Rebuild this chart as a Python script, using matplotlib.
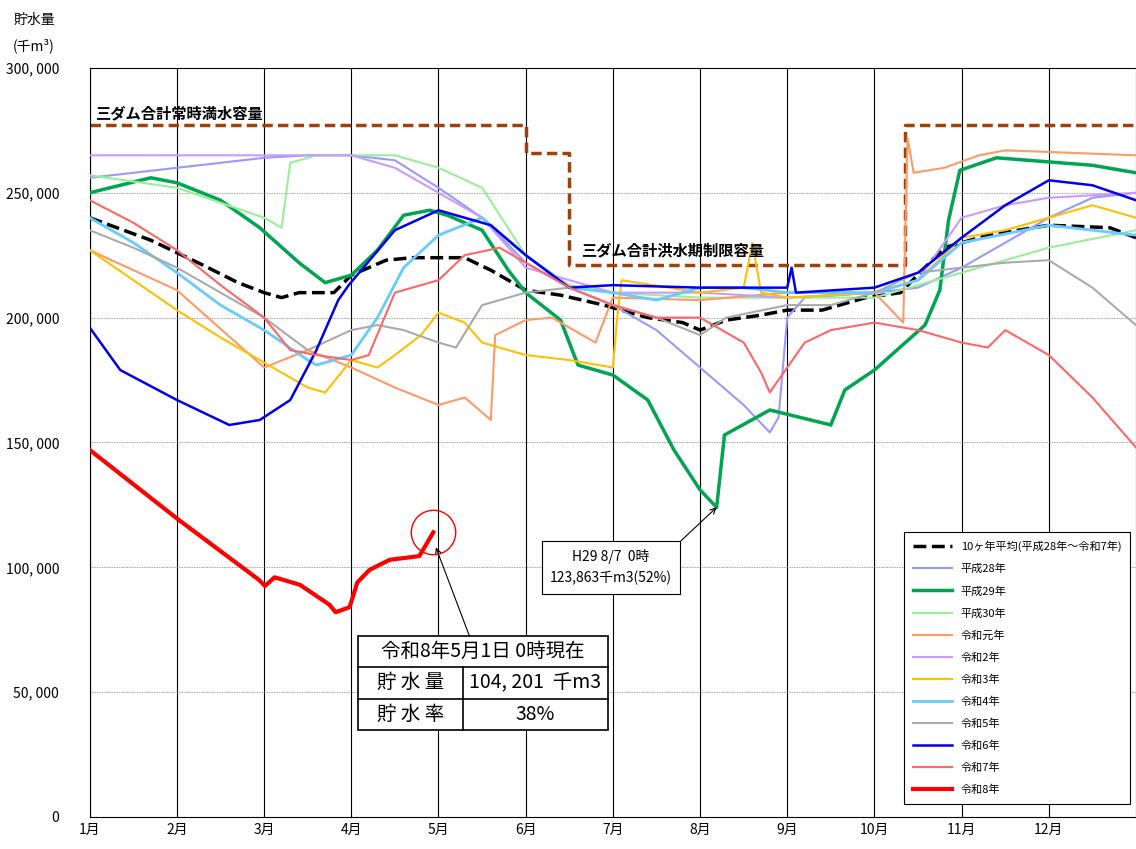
import matplotlib
matplotlib.use("Agg")
import matplotlib.pyplot as plt
from matplotlib.patches import Rectangle
from matplotlib.ticker import FuncFormatter

plt.rcParams['font.family'] = ['Noto Sans CJK JP', 'DejaVu Sans']

months = ['1月', '2月', '3月', '4月', '5月', '6月', '7月', '8月', '9月', '10月', '11月', '12月']

# x = month offset (0 = 1/1), y = 千m3
cap_x = [0, 5, 5, 5.5, 5.5, 9.35, 9.35, 12]
cap_y = [277, 277, 266, 266, 221, 221, 277, 277]

avg_x = [0, 0.7, 1.3, 1.7, 2, 2.2, 2.4, 2.8, 3, 3.4, 3.7, 4, 4.3, 4.6, 5, 5.4, 5.9, 6.4, 6.8, 7, 7.3, 7.7, 8, 8.4, 8.9, 9.3, 9.8, 10.3, 11, 11.7, 12]
avg_y = [240, 231, 221, 214, 210, 208, 210, 210, 217, 223, 224, 224, 224, 219, 211, 209, 205, 200, 198, 195, 199, 201, 203, 203, 208, 210, 228, 233, 237, 236, 232]

h28_x = [0, 0.5, 1, 1.5, 2, 2.5, 3, 3.5, 4, 4.5, 5, 5.5, 6, 6.5, 7, 7.5, 7.8, 7.9, 8.0, 8.2, 9, 9.5, 10, 10.5, 11, 11.5, 12]
h28_y = [256, 258, 260, 262, 264, 265, 265, 263, 252, 240, 222, 212, 205, 195, 180, 165, 154, 160, 200, 208, 210, 212, 220, 230, 240, 248, 250]

h29_x = [0, 0.7, 1, 1.5, 1.95, 2.4, 2.7, 3, 3.3, 3.6, 3.9, 4.1, 4.5, 4.8, 5, 5.4, 5.6, 6, 6.4, 6.7, 7, 7.19, 7.28, 7.8, 8.5, 8.66, 9.0, 9.58, 9.75, 9.85, 9.98, 10.4, 11.5, 12]
h29_y = [250, 256, 254, 247, 236, 222, 214, 217, 227, 241, 243, 241, 235, 219, 210, 199, 181, 177, 167, 147, 131, 124, 153, 163, 157, 171, 179, 197, 211, 239, 259, 264, 261, 258]

h30_x = [0, 1, 2, 2.2, 2.3, 2.6, 3.5, 4, 4.5, 5, 5.5, 6, 7, 8, 9, 9.5, 10, 11, 12]
h30_y = [257, 252, 240, 236, 262, 265, 265, 260, 252, 225, 213, 210, 208, 208, 208, 213, 218, 228, 235]

r1_x = [0, 1, 2, 2.5, 3, 3.5, 4, 4.3, 4.6, 4.65, 5, 5.3, 5.8, 6, 7, 8, 9, 9.33, 9.38, 9.45, 9.8, 10.2, 10.5, 12]
r1_y = [227, 211, 180, 187, 180, 172, 165, 168, 159, 193, 199, 200, 190, 208, 207, 210, 210, 198, 272, 258, 260, 265, 267, 265]

r2_x = [0, 3, 3.5, 4, 4.5, 5, 6, 7, 8, 9, 9.5, 10, 10.5, 11, 12]
r2_y = [265, 265, 260, 250, 240, 220, 210, 210, 208, 210, 215, 240, 245, 248, 250]

r3_x = [0, 0.5, 1, 1.5, 2, 2.5, 2.7, 3, 3.3, 3.5, 3.8, 4, 4.3, 4.5, 5, 5.5, 6, 6.05, 6.1, 7, 7.5, 7.6, 7.7, 8, 9, 9.5, 10, 10.5, 11, 11.5, 12]
r3_y = [227, 215, 203, 192, 182, 172, 170, 183, 180, 185, 193, 202, 198, 190, 185, 183, 180, 200, 215, 210, 212, 230, 210, 208, 210, 215, 232, 235, 240, 245, 240]

r4_x = [0, 0.5, 1, 1.5, 2, 2.5, 2.6, 3, 3.3, 3.6, 4, 4.5, 5, 5.5, 6, 6.5, 7, 7.5, 8, 9, 9.5, 10, 11, 12]
r4_y = [240, 230, 218, 205, 195, 183, 181, 185, 200, 220, 233, 240, 225, 212, 210, 207, 212, 212, 210, 210, 215, 230, 237, 233]

r5_x = [0, 0.5, 1, 1.5, 2, 2.5, 3, 3.3, 3.6, 4, 4.2, 4.5, 5, 5.5, 6, 6.5, 7, 7.3, 8, 8.5, 9, 9.5, 10, 10.5, 11, 11.5, 12]
r5_y = [235, 228, 220, 210, 200, 187, 195, 197, 195, 190, 188, 205, 210, 212, 205, 200, 193, 200, 205, 205, 210, 218, 220, 222, 223, 212, 197]

r6_x = [0, 0.35, 1, 1.6, 1.95, 2.3, 2.6, 2.85, 2.97, 3.5, 4, 4.6, 5, 5.5, 6, 7, 8, 8.05, 8.1, 9, 9.5, 10, 10.5, 11, 11.5, 12]
r6_y = [196, 179, 167, 157, 159, 167, 187, 207, 213, 235, 243, 237, 225, 212, 213, 212, 212, 220, 210, 212, 218, 232, 245, 255, 253, 247]

r7_x = [0, 0.5, 1, 1.5, 2, 2.3, 2.6, 3, 3.2, 3.5, 3.7, 4, 4.3, 4.7, 5, 5.5, 6, 6.5, 7, 7.5, 7.7, 7.8, 8.2, 8.5, 9, 9.5, 10, 10.3, 10.5, 11, 11.5, 12]
r7_y = [247, 238, 227, 213, 200, 187, 185, 183, 185, 210, 212, 215, 225, 228, 222, 212, 205, 200, 200, 190, 178, 170, 190, 195, 198, 195, 190, 188, 195, 185, 168, 148]

r8_x = [0, 1.02, 1.94, 2.01, 2.12, 2.41, 2.75, 2.82, 2.98, 3.07, 3.21, 3.44, 3.67, 3.78, 3.84, 3.94]
r8_y = [147, 119, 95, 92.5, 96, 93, 85, 82, 84, 94, 99, 103, 104, 104.5, 108, 114]

series = [
    ('10ヶ年平均(平成28年～令和7年)', avg_x, avg_y, 'black', 2.5, '--'),
    ('平成28年', h28_x, h28_y, '#9999ff', 1.5, '-'),
    ('平成29年', h29_x, h29_y, '#00a550', 2.5, '-'),
    ('平成30年', h30_x, h30_y, '#99ee99', 1.5, '-'),
    ('令和元年', r1_x, r1_y, '#ff9966', 1.5, '-'),
    ('令和2年', r2_x, r2_y, '#cc99ff', 1.5, '-'),
    ('令和3年', r3_x, r3_y, '#ffc000', 1.5, '-'),
    ('令和4年', r4_x, r4_y, '#66ccff', 2.0, '-'),
    ('令和5年', r5_x, r5_y, '#aaaaaa', 1.5, '-'),
    ('令和6年', r6_x, r6_y, '#0000ee', 1.8, '-'),
    ('令和7年', r7_x, r7_y, '#ff6666', 1.5, '-'),
    ('令和8年', r8_x, r8_y, '#ff0000', 3.0, '-'),
]

fig = plt.figure(figsize=(11.36, 8.49), dpi=100)
ax = fig.add_axes([0.079, 0.0377, 0.921, 0.8823])

ax.plot(cap_x, cap_y, color='#a0400a', lw=2.5, ls=(0, (3, 1.5)), zorder=2)
for name, xs, ys, c, lw, ls in series:
    ax.plot(xs, ys, color=c, lw=lw, ls=ls, label=name, zorder=5 if name == '令和8年' else 3)

ax.set_xlim(0, 12)
ax.set_ylim(0, 300)
ax.set_xticks(range(12))
ax.set_xticklabels(months, fontsize=10)
ax.set_yticks(range(0, 301, 50))
ax.yaxis.set_major_formatter(FuncFormatter(lambda v, p: '0' if v == 0 else f'{int(v)}, 000'))
ax.tick_params(axis='y', labelsize=10, length=0, pad=22)
ax.tick_params(axis='x', length=0, pad=4)
ax.grid(axis='x', color='black', lw=0.8)
ax.grid(axis='y', color='gray', lw=0.6, ls=(0, (1, 1)))
ax.set_axisbelow(True)
for s in ax.spines.values():
    s.set_linewidth(0.8)

fig.text(0.03, 0.985, '貯水量', fontsize=10, ha='center', va='top')
fig.text(0.03, 0.955, '(千m³)', fontsize=10, ha='center', va='top')

ax.text(0.06, 282, '三ダム合計常時満水容量', fontsize=11, fontweight='bold', va='center')
ax.text(5.63, 227, '三ダム合計洪水期制限容量', fontsize=11, fontweight='bold', va='center')

ax.annotate('H29 8/7  0時\n123,863千m3(52%)', xy=(7.19, 124), xytext=(5.98, 100),
            fontsize=10, ha='center', va='center', linespacing=1.6,
            bbox=dict(boxstyle='square,pad=0.6', fc='white', ec='black', lw=0.8),
            arrowprops=dict(arrowstyle='->', color='black', lw=0.8, shrinkA=0, shrinkB=0,
                            relpos=(1.0, 1.0)))

# circle around the latest value
ax.plot([r8_x[-1]], [r8_y[-1]], marker='o', ms=32, mfc='none', mec='red', mew=1.0, zorder=6)
ax.annotate('', xy=(3.97, 108), xytext=(4.36, 72),
            arrowprops=dict(arrowstyle='->', color='black', lw=0.8, shrinkA=0, shrinkB=0))

# table
x0, x1, xm = 0.256, 0.495, 0.357
y0, y1 = 0.116, 0.242
rh = (y1 - y0) / 3
ax.add_patch(Rectangle((x0, y0), x1 - x0, y1 - y0, transform=ax.transAxes,
                       fc='white', ec='black', lw=1.2, zorder=6))
for k in (1, 2):
    ax.plot([x0, x1], [y0 + k * rh, y0 + k * rh], transform=ax.transAxes, color='black', lw=1.2, zorder=7)
ax.plot([xm, xm], [y0, y0 + 2 * rh], transform=ax.transAxes, color='black', lw=1.2, zorder=7)
cells = [((x0 + x1) / 2, 2.5, '令和8年5月1日 0時現在'),
         ((x0 + xm) / 2, 1.5, '貯 水 量'),
         ((xm + x1) / 2, 1.5, '104, 201  千m3'),
         ((x0 + xm) / 2, 0.5, '貯 水 率'),
         ((xm + x1) / 2, 0.5, '38%')]
for cx, r, t in cells:
    ax.text(cx, y0 + r * rh, t, transform=ax.transAxes, ha='center', va='center', fontsize=14, zorder=8)

leg = ax.legend(loc='lower right', bbox_to_anchor=(1.0, 0.01), fontsize=8, frameon=True,
                fancybox=False, edgecolor='black', handlelength=3.5, labelspacing=1.05,
                borderpad=0.8, framealpha=1)
leg.get_frame().set_linewidth(0.8)

fig.savefig('out.png', dpi=100)
